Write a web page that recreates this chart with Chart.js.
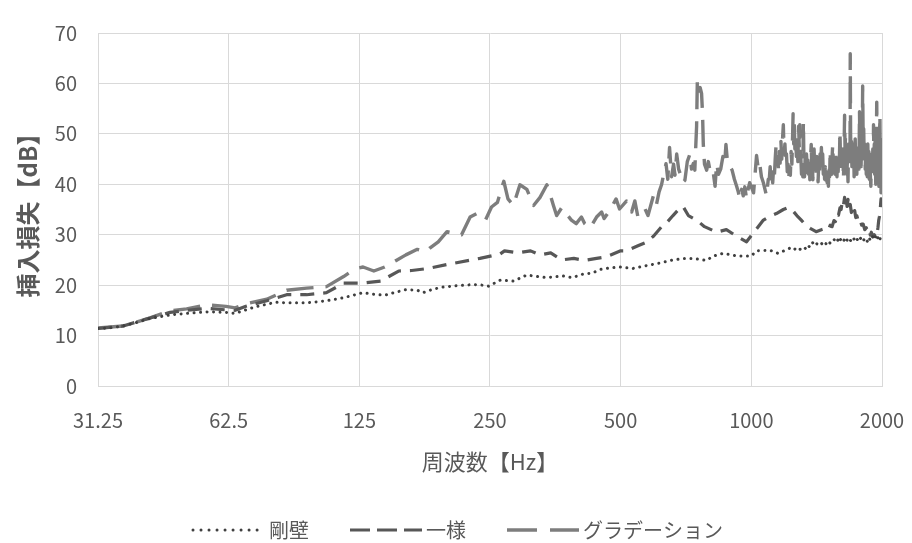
<!DOCTYPE html>
<html>
<head>
<meta charset="utf-8">
<script src="https://cdn.jsdelivr.net/npm/chart.js@4.4.1/dist/chart.umd.min.js"></script>
<style>
  html, body { margin: 0; padding: 0; background: #ffffff; }
  #wrap { width: 912px; height: 543px; }
</style>
</head>
<body>
<div id="wrap"><canvas id="chart" width="912" height="543"></canvas></div>
<script>
// Octave-band frequency ticks [Hz]
const xTickValues = [31.25, 62.5, 125, 250, 500, 1000, 2000];
const xTickLabels = ['31.25', '62.5', '125', '250', '500', '1000', '2000'];

// Insertion loss [dB] vs frequency [Hz] — rigid wall (剛壁)
const rigidWall = [
  [31.25,11.4],[33,11.5],[35.7,11.9],[38,12.5],[41.2,13.4],[45.8,14.1],[50,14.4],[55.6,14.7],
  [61.6,14.6],[64.7,14.4],[68.5,15.1],[72,15.7],[76.5,16.2],[80,16.6],[85,16.5],[94.5,16.5],
  [100,16.7],[105,16.9],[115,17.5],[127.5,18.5],[135,18.2],[143,18.0],[150,18.5],[160,19.1],
  [170,19.0],[175,18.5],[185,19.2],[194,19.6],[210,19.9],[228,20.1],[240,20.0],[248,19.8],
  [264,21.0],[283,20.8],[304,22.0],[336,21.5],[369,21.8],[387,21.5],[410,22.2],[430,22.4],
  [448,23.1],[470,23.4],[497,23.6],[533,23.3],[575,23.9],[616,24.4],[660,25.0],[700,25.3],
  [735,25.3],[789,24.9],[814,25.7],[860,26.3],[925,25.8],[1000,25.8],[1028,26.8],[1105,26.9],
  [1152,26.3],[1225,27.3],[1250,26.9],[1270,27.4],[1290,27.0],[1317,27.6],[1335,27.2],[1350,27.9],
  [1365,27.5],[1385,28.4],[1400,27.8],[1420,28.3],[1440,27.9],[1463,28.5],[1480,28.0],[1500,28.8],
  [1520,28.3],[1550,29.1],[1565,28.5],[1580,29.0],[1595,28.4],[1610,29.3],[1630,28.7],[1647,29.5],
  [1665,28.8],[1680,29.3],[1700,28.6],[1720,29.3],[1735,28.7],[1750,29.2],[1770,28.6],[1790,29.5],
  [1810,28.8],[1830,29.4],[1850,28.7],[1865,29.5],[1880,28.9],[1900,29.7],[1920,29.0],[1935,29.8],
  [1950,29.1],[1965,29.9],[1980,29.2],[1990,29.7],[2000,30.2]
];

// Uniform absorber (一様)
const uniformLayer = [
  [31.25,11.4],[35.7,11.9],[41.2,13.5],[45.8,14.6],[50,15.0],[55.6,15.4],[61.6,15.1],[64.7,15.0],
  [68.5,15.8],[76.5,16.9],[85,18.1],[94.5,18.1],[105,18.5],[115,20.4],[127.5,20.4],[140,20.8],
  [154,22.8],[165,22.9],[180,23.3],[202,24.2],[237,25.3],[264,26.2],[270,26.8],[290,26.4],
  [310,26.8],[326,26.0],[345,26.4],[366,25.0],[390,25.3],[413,24.9],[440,25.3],[463,25.6],
  [500,26.8],[515,26.8],[548,27.8],[570,28.4],[595,29.7],[620,31.5],[640,32.5],[660,33.8],
  [680,35.0],[696,35.6],[716,33.8],[748,32.9],[780,31.6],[832,30.5],[876,31.0],[925,29.7],
  [975,28.6],[1010,30.3],[1066,32.9],[1100,33.6],[1142,34.2],[1185,35.0],[1216,35.4],[1245,34.8],
  [1273,33.8],[1300,33.0],[1338,31.8],[1370,31.2],[1410,30.6],[1450,31.0],[1490,31.3],[1505,31.0],
  [1520,31.9],[1535,31.6],[1550,32.8],[1562,32.6],[1575,34.2],[1588,33.9],[1600,35.3],[1610,35.0],
  [1620,36.6],[1630,35.8],[1640,37.4],[1648,35.8],[1655,37.0],[1662,35.6],[1670,37.0],[1680,35.2],
  [1690,36.0],[1700,34.4],[1710,35.0],[1720,33.9],[1730,34.8],[1740,33.4],[1750,33.8],[1765,32.6],
  [1780,33.0],[1795,31.9],[1810,32.1],[1825,31.0],[1840,31.4],[1855,30.4],[1870,30.8],[1880,29.9],
  [1890,30.5],[1905,29.6],[1920,30.0],[1935,29.5],[1950,30.4],[1958,31.5],[1965,32.8],[1972,33.5],
  [1980,34.6],[1985,36.0],[1990,37.1],[1995,35.5],[2000,36.6]
];

// Graded absorber (グラデーション)
const gradedLayer = [
  [31.25,11.5],[35.7,11.9],[41.2,13.5],[45.8,14.9],[50,15.3],[55.6,16.1],[61.6,15.8],[64.7,15.5],
  [68.5,16.3],[76.5,17.2],[85,19.0],[94.5,19.4],[105,19.7],[115,21.7],[122,23.2],[127.5,23.6],
  [135,22.8],[143,23.6],[152,24.9],[160,26.0],[170,27.1],[178,26.6],[182,27.4],[190,28.6],
  [199,30.6],[215,30.0],[225,33.5],[233,34.2],[244,32.9],[252,35.5],[260,36.4],[269,40.6],
  [275,37.1],[283,35.8],[293,39.9],[304,39.0],[315,35.8],[326,37.4],[338,39.9],[343,38.3],
  [350,35.8],[356,33.8],[366,35.4],[372,34.5],[385,32.9],[395,32.2],[406,33.5],[413,32.2],
  [425,31.3],[440,33.5],[452,34.5],[458,33.2],[472,34.8],[488,37.1],[497,35.1],[516,36.7],
  [530,34.5],[539,36.7],[548,33.5],[569,35.1],[578,33.8],[596,38.0],[605,36.1],[613,38.5],
  [621,39.9],[630,42.5],[636,44.1],[642,41.0],[648,47.3],[655,41.5],[662,44.0],[667,41.8],
  [673,46.0],[680,43.0],[685,42.2],[694,40.3],[703,40.8],[712,44.5],[722,46.0],[728,43.0],
  [735,44.1],[741,42.8],[745,47.9],[748,51.5],[751,60.8],[756,58.5],[762,59.2],[768,58.0],
  [772,54.0],[775,48.0],[780,44.0],[789,42.8],[796,44.5],[803,42.8],[812,41.5],[818,42.0],
  [825,39.6],[832,44.1],[840,42.0],[850,43.0],[860,45.5],[868,44.0],[874,47.9],[882,44.0],
  [893,43.5],[903,42.8],[914,41.0],[925,39.6],[933,38.5],[941,37.1],[950,39.0],[958,37.7],
  [966,39.5],[975,37.1],[983,39.0],[991,40.3],[1000,39.5],[1012,38.3],[1020,42.0],[1028,45.7],
  [1036,43.5],[1044,44.5],[1055,41.5],[1066,40.3],[1075,39.0],[1084,37.7],[1094,41.0],
  [1100,41.0],[1105,43.5],[1110,40.8],[1115,42.5],[1120,40.3],[1125,43.0],[1130,41.5],[1135,45.0],
  [1140,47.6],[1145,44.0],[1150,45.5],[1155,43.0],[1160,46.5],[1165,44.2],[1170,48.5],[1175,45.0],
  [1180,49.0],[1185,51.8],[1190,46.0],[1195,48.0],[1200,44.5],[1205,46.0],[1210,42.5],[1215,44.0],
  [1220,41.5],[1225,43.5],[1230,41.8],[1235,46.5],[1240,44.0],[1245,50.0],[1248,54.0],[1252,48.0],
  [1256,52.0],[1260,47.0],[1265,49.5],[1270,45.5],[1275,48.0],[1280,44.5],[1285,51.5],[1290,47.0],
  [1293,51.8],[1297,46.0],[1300,45.5],[1305,42.0],[1310,44.5],[1314,41.5],[1318,52.4],[1322,44.0],
  [1326,41.5],[1330,45.0],[1335,42.0],[1340,46.0],[1345,43.5],[1350,44.8],[1355,42.0],[1360,45.0],
  [1364,40.9],[1368,44.5],[1374,47.9],[1378,43.0],[1382,45.0],[1386,40.9],[1390,44.0],[1395,47.0],
  [1400,42.5],[1405,45.5],[1410,41.5],[1415,45.5],[1420,42.0],[1425,40.5],[1430,44.5],[1435,42.0],
  [1440,46.0],[1445,43.0],[1450,47.3],[1455,44.0],[1460,46.0],[1465,42.0],[1470,44.5],[1475,41.0],
  [1480,43.5],[1485,40.8],[1490,42.5],[1495,40.3],[1500,43.0],[1505,39.6],[1510,44.0],[1515,41.5],
  [1519,46.7],[1524,43.0],[1528,45.0],[1532,42.0],[1536,46.0],[1540,47.9],[1545,44.0],[1550,43.0],
  [1555,46.0],[1560,42.0],[1565,46.5],[1570,43.0],[1575,41.5],[1580,45.0],[1585,42.5],[1590,46.0],
  [1595,44.0],[1600,50.5],[1605,45.0],[1610,42.5],[1615,46.0],[1620,43.5],[1625,47.0],[1630,41.0],
  [1635,46.0],[1640,53.7],[1644,47.0],[1648,49.5],[1652,44.0],[1656,46.5],[1660,42.0],[1665,45.0],
  [1670,40.5],[1675,48.0],[1680,43.5],[1685,47.0],[1688,44.5],[1690,65.9],[1693,50.0],[1697,45.5],
  [1701,48.5],[1705,43.5],[1710,47.0],[1715,44.0],[1720,48.0],[1725,41.5],[1730,46.0],[1735,49.0],
  [1740,43.0],[1745,46.5],[1750,42.0],[1755,47.5],[1760,44.0],[1765,48.5],[1770,43.0],[1775,54.4],
  [1780,45.5],[1785,49.0],[1790,43.5],[1795,49.5],[1800,45.0],[1805,59.5],[1810,48.5],[1815,51.0],
  [1820,45.0],[1825,48.0],[1830,43.0],[1835,47.5],[1840,42.0],[1845,46.0],[1850,41.5],[1855,48.0],
  [1860,43.0],[1865,46.5],[1870,41.0],[1875,45.5],[1880,42.0],[1885,39.6],[1890,44.5],[1895,46.0],
  [1900,41.5],[1905,47.0],[1910,43.0],[1912,51.8],[1916,45.0],[1920,48.0],[1924,42.0],[1928,48.5],
  [1932,43.5],[1935,40.0],[1940,47.0],[1945,56.3],[1949,46.0],[1952,42.0],[1956,48.0],[1960,46.5],
  [1964,41.0],[1968,39.6],[1972,47.0],[1975,50.0],[1978,53.7],[1982,44.0],[1985,40.0],[1988,46.0],
  [1990,38.3],[1993,47.0],[1995,45.0],[1998,40.5],[2000,49.2]
];

const seriesNames = ['剛壁', '一様', 'グラデーション'];

const toPoints = (pairs) => pairs.map(([f, db]) => ({ x: f, y: db }));

const FONT = '"Noto Sans CJK JP", "Noto Sans", sans-serif';
const TEXT_COLOR = '#595959';
const GRID_COLOR = '#d9d9d9';

// Legend drawn below the plot: a line sample followed by the series name
const sampleLegend = {
  id: 'sampleLegend',
  afterDraw(chart) {
    const ctx = chart.ctx;
    const y = 530;
    const starts = [193, 350, 507];
    const sampleLen = 72;
    chart.data.datasets.forEach((ds, i) => {
      const x0 = starts[i];
      ctx.save();
      ctx.strokeStyle = ds.borderColor;
      ctx.lineWidth = ds.borderWidth;
      ctx.lineCap = ds.borderCapStyle;
      ctx.setLineDash(ds.legendDash);
      ctx.beginPath();
      ctx.moveTo(x0, y);
      ctx.lineTo(x0 + sampleLen, y);
      ctx.stroke();
      ctx.setLineDash([]);
      ctx.fillStyle = TEXT_COLOR;
      ctx.font = '20px ' + FONT;
      ctx.textAlign = 'left';
      ctx.textBaseline = 'middle';
      ctx.fillText(ds.label, x0 + sampleLen + 4, y);
      ctx.restore();
    });
  }
};

new Chart(document.getElementById('chart'), {
  type: 'line',
  data: {
    datasets: [
      {
        label: seriesNames[0],
        data: toPoints(rigidWall),
        borderColor: '#3f3f3f',
        borderWidth: 3,
        borderDash: [0.01, 6.5],
        legendDash: [0.01, 8],
        borderCapStyle: 'round',
        borderJoinStyle: 'round',
        pointRadius: 0,
        tension: 0,
        fill: false
      },
      {
        label: seriesNames[1],
        data: toPoints(uniformLayer),
        borderColor: '#575757',
        borderWidth: 3.2,
        borderDash: [14, 9],
        legendDash: [20, 7],
        borderCapStyle: 'butt',
        borderJoinStyle: 'round',
        pointRadius: 0,
        tension: 0,
        fill: false
      },
      {
        label: seriesNames[2],
        data: toPoints(gradedLayer),
        borderColor: '#7d7d7d',
        borderWidth: 3.4,
        borderDash: [27, 12],
        legendDash: [30, 13],
        borderCapStyle: 'butt',
        borderJoinStyle: 'round',
        pointRadius: 0,
        tension: 0,
        fill: false
      }
    ]
  },
  options: {
    responsive: false,
    animation: false,
    devicePixelRatio: 1,
    layout: { padding: { left: 0, right: 30, top: 22, bottom: 0 } },
    plugins: {
      legend: { display: false },
      tooltip: { enabled: false }
    },
    scales: {
      x: {
        type: 'logarithmic',
        min: 31.25,
        max: 2000,
        afterBuildTicks: (scale) => { scale.ticks = xTickValues.map(v => ({ value: v })); },
        afterFit: (scale) => {
          scale.height = 157;
          scale.paddingLeft = 0;
          scale.paddingRight = 0;
        },
        ticks: {
          autoSkip: false,
          maxRotation: 0,
          padding: 22,
          color: TEXT_COLOR,
          font: { family: FONT, size: 20 },
          callback: (value, index) => xTickLabels[index]
        },
        grid: { color: GRID_COLOR, lineWidth: 1, drawTicks: false },
        border: { color: GRID_COLOR, width: 1 },
        title: {
          display: true,
          text: '周波数【Hz】',
          color: TEXT_COLOR,
          font: { family: FONT, size: 22 },
          padding: { top: 0, bottom: 68 }
        }
      },
      y: {
        min: 0,
        max: 70,
        afterFit: (scale) => { scale.width = 98; },
        ticks: {
          stepSize: 10,
          padding: 21,
          color: TEXT_COLOR,
          font: { family: FONT, size: 20 }
        },
        grid: { color: GRID_COLOR, lineWidth: 1, drawTicks: false },
        border: { color: GRID_COLOR, width: 1 },
        title: {
          display: true,
          text: '挿入損失【dB】',
          color: TEXT_COLOR,
          font: { family: FONT, size: 24, weight: 'bold' },
          padding: { top: 13, bottom: 0 }
        }
      }
    }
  },
  plugins: [sampleLegend]
});
</script>
</body>
</html>
